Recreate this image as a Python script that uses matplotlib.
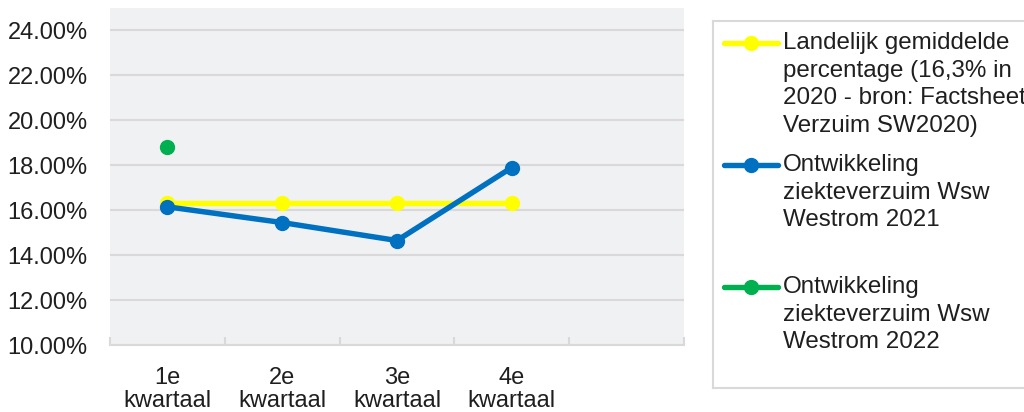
import matplotlib
matplotlib.use("Agg")
import matplotlib.pyplot as plt
from matplotlib.ticker import FixedLocator, PercentFormatter
from matplotlib.lines import Line2D

plt.rcParams['font.family'] = ['Liberation Sans', 'DejaVu Sans']

categories = ["1e\nkwartaal", "2e\nkwartaal", "3e\nkwartaal", "4e\nkwartaal", ""]
landelijk = [16.3, 16.3, 16.3, 16.3]
wsw_2021 = [16.15, 15.45, 14.65, 17.9]
wsw_2022 = [18.8]
y_ticks = [10, 12, 14, 16, 18, 20, 22, 24]

legend_labels = [
    ["Landelijk gemiddelde", "percentage (16,3% in", "2020 - bron: Factsheet", "Verzuim SW2020)"],
    ["Ontwikkeling", "ziekteverzuim Wsw", "Westrom 2021"],
    ["Ontwikkeling", "ziekteverzuim Wsw", "Westrom 2022"],
]
colors = ["#FFFF00", "#0070C0", "#00B050"]

W, H = 1024, 412
fig = plt.figure(figsize=(W / 100, H / 100), dpi=100)
fig.patch.set_facecolor("white")

def px_rect(x0, y0, x1, y1):
    return [x0 / W, (H - y1) / H, (x1 - x0) / W, (y1 - y0) / H]

ax = fig.add_axes(px_rect(110, 8, 684, 345))
ax.set_facecolor("#F0F1F3")
x_all = list(range(len(categories)))

LW, MS = 3.9, 10
ax.plot(x_all[:len(landelijk)], landelijk, color=colors[0], lw=LW, marker="o", ms=MS, zorder=3)
ax.plot(x_all[:len(wsw_2021)], wsw_2021, color=colors[1], lw=LW, marker="o", ms=MS, zorder=4)
ax.plot(x_all[:len(wsw_2022)], wsw_2022, color=colors[2], lw=LW, marker="o", ms=MS, zorder=5)

ax.set_xlim(-0.5, len(categories) - 0.5)
ax.set_ylim(10, 25)
ax.set_yticks(y_ticks)
ax.yaxis.set_major_formatter(PercentFormatter(decimals=2))
ax.yaxis.grid(True, color="#D9D9D9", lw=1.5)
ax.set_axisbelow(True)
ax.tick_params(axis="y", length=0, pad=16, labelsize=17, labelcolor="#1F1F1F")

ax.set_xticks(x_all)
ax.set_xticklabels(categories, linespacing=1.02)
ax.tick_params(axis="x", which="major", length=0, pad=16, labelsize=17, labelcolor="#1F1F1F")
ax.xaxis.set_minor_locator(FixedLocator([i - 0.5 for i in range(len(categories) + 1)]))
ax.tick_params(axis="x", which="minor", direction="in", length=5.5, width=1.5, color="#D9D9D9")

for s in ["top", "left", "right"]:
    ax.spines[s].set_visible(False)
ax.spines["bottom"].set_color("#D9D9D9")
ax.spines["bottom"].set_linewidth(1.5)

# Legend box
lx0, ly0, lx1, ly1 = 713, 21, 1030, 388
lax = fig.add_axes(px_rect(lx0, ly0, lx1, ly1))
lax.set_xlim(lx0, lx1)
lax.set_ylim(ly1, ly0)
lax.set_xticks([])
lax.set_yticks([])
for s in lax.spines.values():
    s.set_color("#D9D9D9")
    s.set_linewidth(1.5)

entry_tops = [43, 165, 287]
line_gap = 27.7
for lines, top, c in zip(legend_labels, entry_tops, colors):
    lax.add_line(Line2D([724, 778], [top, top], color=c, lw=LW, solid_capstyle="round"))
    lax.add_line(Line2D([751], [top], color=c, marker="o", ms=MS))
    for i, t in enumerate(lines):
        lax.text(783, top + i * line_gap, t, fontsize=17.4, color="#1F1F1F", va="center", ha="left")

fig.savefig("out.png", dpi=100)
